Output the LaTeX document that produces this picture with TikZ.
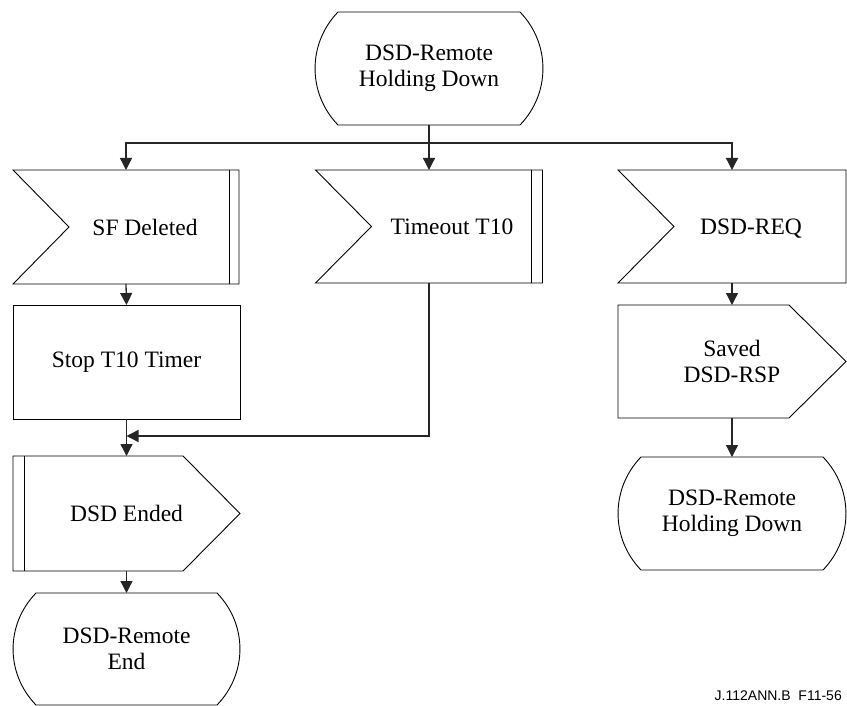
\documentclass[tikz,border=0pt]{standalone}
\usepackage{fontspec}
\setmainfont{Liberation Serif}
\newfontfamily\labelfont{Liberation Sans}
\usetikzlibrary{arrows.meta,calc}
\begin{document}
\begin{tikzpicture}[x=1pt,y=-1pt,
  frame/.style 2 args={inner sep=0pt,outer sep=0pt,minimum width=#1pt,minimum height=#2pt,
    font=\fontsize{23.5}{25.5}\selectfont,align=center},
  txt/.style={inner sep=0pt,font=\fontsize{23.5}{25.5}\selectfont,align=center,text depth=0pt},
  outl/.style={draw=black,line width=0.9pt,line join=miter},
  arr/.style={draw=black!85,line width=1.3pt,-{Triangle[length=12pt,width=12pt]}},
  ln/.style={draw=black!85,line width=1.3pt}]
\useasboundingbox (0,0) rectangle (847,706);

% frames
\node[frame={228}{113}] (top) at (429,68.5) {DSD-Remote\\Holding Down};
\node[frame={226}{114}] (sf) at (126,227) {};
\node[frame={227}{113}] (to) at (429,226.5) {};
\node[frame={228}{113}] (req) at (732,226.5) {};
\node[frame={227}{114}] (stop) at (126.5,362) {Stop T10 Timer};
\node[frame={227}{115}] (ended) at (126.5,513.5) {DSD Ended};
\node[frame={228}{113}] (saved) at (732,361.5) {Saved\\DSD-RSP};
\node[frame={228}{113}] (hold) at (732,513.5) {DSD-Remote\\Holding Down};
\node[frame={227}{112}] (end) at (126.5,649) {DSD-Remote\\End};

% texts of input signals
\node[txt] (sft) at ($(sf)+(19,0)$) {SF Deleted};
\node[txt] (tot) at ($(to)+(23,0)$) {Timeout T10};
\node[txt] (reqt) at ($(req)+(19,0)$) {DSD-REQ};

% state shapes
\foreach \n in {top,hold,end}{
  \draw[outl] ($(\n.north west)+(23,0)$) -- ($(\n.north east)+(-23,0)$)
    .. controls +(30.6,31.6) and +(30.6,-31.6) .. ($(\n.south east)+(-23,0)$)
    -- ($(\n.south west)+(23,0)$)
    .. controls +(-30.6,-31.6) and +(-30.6,31.6) .. cycle;
}
% input shapes
\foreach \n in {sf,to,req}{
  \draw[outl] (\n.north west) -- (\n.north east) -- (\n.south east) -- (\n.south west)
    -- ($(\n.west)+(56,0)$) -- cycle;
}
\draw[outl] ($(sf.north east)+(-10,0)$) -- ($(sf.south east)+(-10,0)$);
\draw[outl] ($(to.north east)+(-11,0)$) -- ($(to.south east)+(-11,0)$);
% task
\draw[outl] (stop.north west) rectangle (stop.south east);
% output shapes
\foreach \n in {ended,saved}{
  \draw[outl] (\n.north west) -- ($(\n.north east)+(-57,0)$) -- (\n.east)
    -- ($(\n.south east)+(-57,0)$) -- (\n.south west) -- cycle;
}
\draw[outl] ($(ended.north west)+(11,0)$) -- ($(ended.south west)+(11,0)$);

% connectors
\coordinate (br) at (429,143);
\coordinate (j) at (126.5,436);
\draw[ln] (top.south) -- (br);
\draw[arr] (br) -| (sf.north);
\draw[arr] (br) -- (to.north);
\draw[arr] (br) -| (req.north);
\draw[arr] (sf.south) -- (stop.north);
\draw[arr] (stop.south) -- (ended.north);
\draw[arr] (to.south) |- (j);
\draw[arr] (ended.south) -- (end.north);
\draw[arr] (req.south) -- (saved.north);
\draw[arr] (saved.south) -- (hold.north);

\node[anchor=base east,inner sep=0pt,font=\labelfont\fontsize{14}{16}\selectfont] (lbl) at (842,700) {J.112ANN.B\ \ F11-56};
\end{tikzpicture}
\end{document}
